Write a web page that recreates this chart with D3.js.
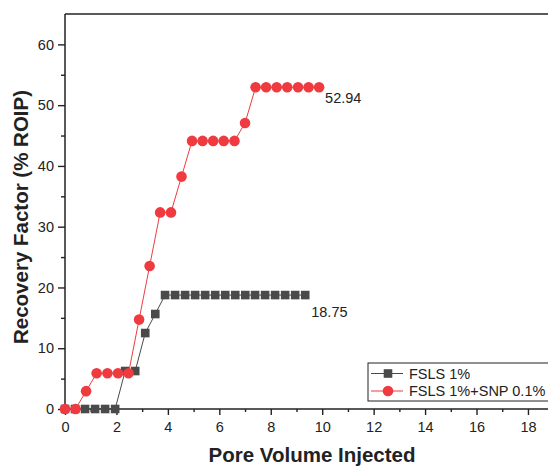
<!DOCTYPE html>
<html>
<head>
<meta charset="utf-8">
<script src="https://cdn.jsdelivr.net/npm/d3@7"></script>
<style>
  body { margin: 0; background: #fff; }
  svg { display: block; font-family: Arial, "Liberation Sans", sans-serif; }
</style>
</head>
<body>
<div id="chart"></div>
<script>
// pore volumes injected
var pvFsls = [0, 0.39, 0.78, 1.17, 1.56, 1.95, 2.34, 2.73, 3.12, 3.51, 3.89, 4.28, 4.67, 5.06, 5.45, 5.84, 6.23, 6.62, 7.01, 7.39, 7.78, 8.17, 8.56, 8.95, 9.34]
var rfFsls = [0, 0, 0, 0, 0, 0, 6.25, 6.25, 12.5, 15.63, 18.75, 18.75, 18.75, 18.75, 18.75, 18.75, 18.75, 18.75, 18.75, 18.75, 18.75, 18.75, 18.75, 18.75, 18.75]

var pvSnp = [0, 0.41, 0.82, 1.23, 1.65, 2.06, 2.47, 2.88, 3.29, 3.70, 4.12, 4.53, 4.94, 5.35, 5.76, 6.17, 6.59, 7.00, 7.41, 7.82, 8.23, 8.64, 9.06, 9.47, 9.88]
var rfSnp = [0, 0, 2.94, 5.88, 5.88, 5.88, 5.88, 14.71, 23.53, 32.35, 32.35, 38.24, 44.12, 44.12, 44.12, 44.12, 44.12, 47.06, 52.94, 52.94, 52.94, 52.94, 52.94, 52.94, 52.94]

var seriesNames = ['FSLS 1%', 'FSLS 1%+SNP 0.1%']
var xTicks = [0, 2, 4, 6, 8, 10, 12, 14, 16, 18]
var yTicks = [0, 10, 20, 30, 40, 50, 60]

var width = 548, height = 468
var gray = '#4a4a4a', red = '#ef3b3f', ink = '#222'
var fontSize = '14.5px', titleSize = '20.5px'

var svg = d3.select('#chart').append('svg')
  .attr('width', width)
  .attr('height', height)

var x = d3.scaleLinear().domain([0, 20]).range([65, 579.4])
var y = d3.scaleLinear().domain([0, 65]).range([409, 14])

// minor ticks first, majors on top
svg.append('g')
  .attr('transform', 'translate(0,' + y(0) + ')')
  .call(d3.axisBottom(x).tickValues(d3.range(1, 20, 2)).tickSize(3).tickFormat(''))
svg.append('g')
  .attr('transform', 'translate(' + x(0) + ',0)')
  .call(d3.axisLeft(y).tickValues(d3.range(5, 65, 10)).tickSize(4).tickFormat(''))

svg.append('g')
  .attr('transform', 'translate(0,' + y(0) + ')')
  .call(d3.axisBottom(x).tickValues(xTicks).tickSize(6).tickPadding(7))
svg.append('g')
  .attr('transform', 'translate(' + x(0) + ',0)')
  .call(d3.axisLeft(y).tickValues(yTicks).tickSize(7).tickPadding(4))

svg.selectAll('.domain, .tick line')
  .attr('stroke', ink)
  .attr('stroke-width', 1.4)
svg.selectAll('.domain').attr('d', null)
svg.selectAll('.tick text')
  .attr('fill', ink)
  .style('font-size', fontSize)
  .style('font-family', 'Arial, "Liberation Sans", sans-serif')

// frame: left, bottom, top (right side is cut off)
svg.append('line').attr('x1', x(0)).attr('x2', x(0)).attr('y1', y(65)).attr('y2', y(0))
  .attr('stroke', ink).attr('stroke-width', 1.5)
svg.append('line').attr('x1', x(0)).attr('x2', width).attr('y1', y(0)).attr('y2', y(0))
  .attr('stroke', ink).attr('stroke-width', 1.5)
svg.append('line').attr('x1', x(0)).attr('x2', width).attr('y1', y(65)).attr('y2', y(65))
  .attr('stroke', ink).attr('stroke-width', 1.5)

var fsls = pvFsls.map((d, i) => ({pv: d, rf: rfFsls[i]}))
var snp = pvSnp.map((d, i) => ({pv: d, rf: rfSnp[i]}))

var line = d3.line()
  .x((d) => x(d.pv))
  .y((d) => y(d.rf))

svg.append('path')
  .attr('d', line(fsls))
  .attr('fill', 'none')
  .attr('stroke', gray)
  .attr('stroke-width', 1)
svg.selectAll('.sq')
  .data(fsls)
  .enter()
  .append('rect')
  .attr('x', (d) => x(d.pv) - 4.3)
  .attr('y', (d) => y(d.rf) - 4.3)
  .attr('width', 8.6)
  .attr('height', 8.6)
  .attr('fill', gray)

svg.append('path')
  .attr('d', line(snp))
  .attr('fill', 'none')
  .attr('stroke', red)
  .attr('stroke-width', 1)
svg.selectAll('.dot')
  .data(snp)
  .enter()
  .append('circle')
  .attr('cx', (d) => x(d.pv))
  .attr('cy', (d) => y(d.rf))
  .attr('r', 5.3)
  .attr('fill', red)

// end value labels
svg.append('text')
  .attr('x', x(pvSnp[pvSnp.length - 1]) + 6)
  .attr('y', y(rfSnp[rfSnp.length - 1]) + 16)
  .style('font-size', fontSize)
  .attr('fill', ink)
  .text(rfSnp[rfSnp.length - 1].toFixed(2))
svg.append('text')
  .attr('x', x(pvFsls[pvFsls.length - 1]) + 6)
  .attr('y', y(rfFsls[rfFsls.length - 1]) + 22)
  .style('font-size', fontSize)
  .attr('fill', ink)
  .text(rfFsls[rfFsls.length - 1].toFixed(2))

// axis titles
svg.append('text')
  .attr('x', 312)
  .attr('y', 462)
  .style('text-anchor', 'middle')
  .style('font-weight', 'bold')
  .style('font-size', titleSize)
  .attr('fill', ink)
  .text('Pore Volume Injected')
svg.append('text')
  .attr('transform', 'translate(28,217) rotate(-90)')
  .style('text-anchor', 'middle')
  .style('font-weight', 'bold')
  .style('font-size', titleSize)
  .attr('fill', ink)
  .text('Recovery Factor (% ROIP)')

// legend
var lg = svg.append('g').attr('transform', 'translate(368,363)')
lg.append('rect')
  .attr('width', 200).attr('height', 38)
  .attr('fill', '#fff').attr('stroke', ink).attr('stroke-width', 1)
var rows = lg.selectAll('.row')
  .data(seriesNames)
  .enter()
  .append('g')
  .attr('transform', (d, i) => 'translate(0,' + (10.5 + i * 17.5) + ')')
rows.append('line')
  .attr('x1', 3).attr('x2', 35)
  .attr('stroke', (d, i) => i ? red : gray)
  .attr('stroke-width', 1)
rows.filter((d, i) => i === 0).append('rect')
  .attr('x', 20 - 4.3).attr('y', -4.3).attr('width', 8.6).attr('height', 8.6)
  .attr('fill', gray)
rows.filter((d, i) => i === 1).append('circle')
  .attr('cx', 20).attr('r', 5.3)
  .attr('fill', red)
rows.append('text')
  .attr('x', 41)
  .attr('y', 5)
  .style('font-size', fontSize)
  .attr('fill', ink)
  .text((d) => d)
</script>
</body>
</html>
